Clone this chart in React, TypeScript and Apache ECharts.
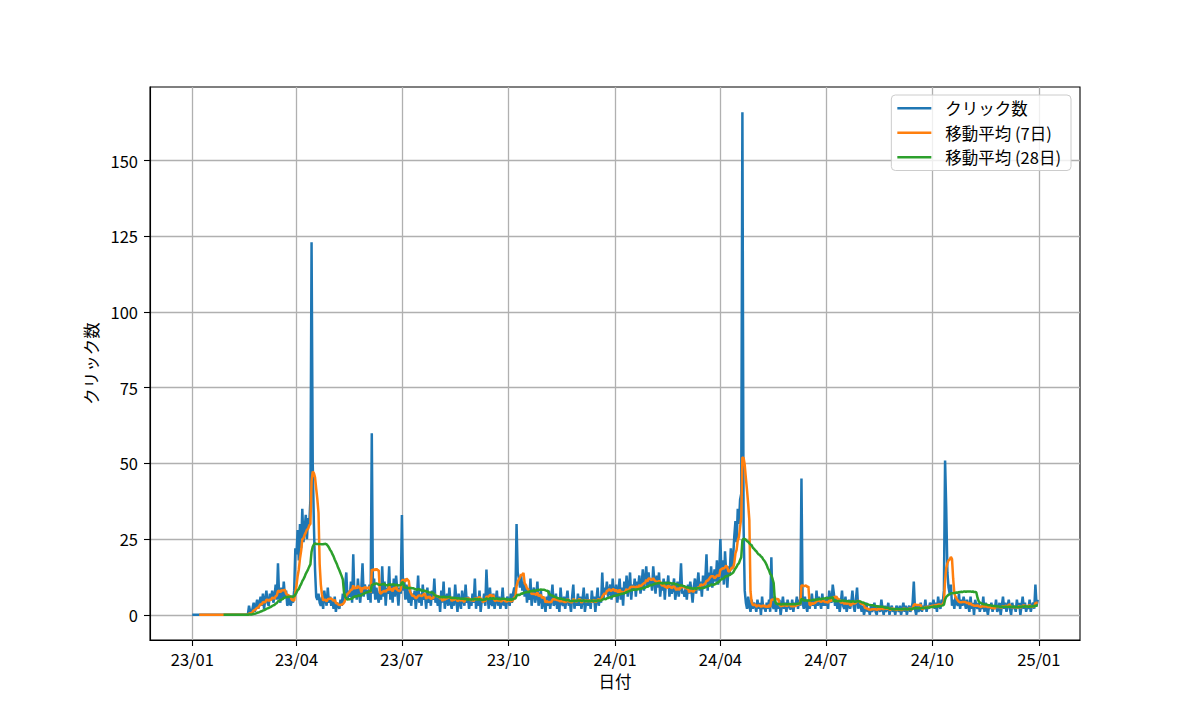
import React, { useEffect, useRef } from "react";
import * as echarts from "echarts";

// Daily click counts, one array per month (2023-01 .. 2024-12)
const jan23 = [0,0,0,0,0,0,0,0,0,0, 0,0,0,0,0,0,0,0,0,0, 0,0,0,0,0,0,0,0,0,0, 0];
const feb23 = [0,0,0,0,0,0,0,0,0,0, 0,0,0,0,0,0,0,0,3,1, 0,2,4,1,3,5,2,4];
const mar23 = [6,3,7,2,5,8,4,3,7,5, 8,4,6,10,5,17,6,4,9,5, 11,6,8,3,4,6,3,5,4,8, 22];
const apr23 = [20,28,18,30,22,35,24,28,33,25, 32,30,38,123,50,30,15,6,5,7, 4,3,6,2,8,5,3,9,4,6];
const may23 = [3,5,2,6,1,4,3,2,5,3, 7,4,10,14,5,8,6,11,4,20, 6,9,5,12,7,4,9,17,6,10, 8];
const jun23 = [8,5,10,4,60,7,12,5,9,6, 4,8,5,16,6,11,3,9,7,16, 5,10,4,12,6,13,8,3,9,7];
const jul23 = [33,8,12,5,10,6,4,9,3,7, 5,8,2,6,13,4,7,3,10,5, 6,2,9,4,7,3,8,5,12,4, 6];
const aug23 = [3,6,1,8,4,11,2,5,7,3, 9,4,2,6,3,10,5,1,7,4, 2,8,5,3,10,4,6,2,5,3, 7];
const sep23 = [4,12,2,6,3,8,1,5,4,7, 3,15,6,2,9,4,3,7,2,5, 8,3,6,2,4,9,3,5,2,6];
const oct23 = [5,3,7,4,7,9,6,30,14,12, 9,13,8,11,6,10,4,8,5,12, 3,7,9,4,6,11,3,5,8,2, 6];
const nov23 = [4,1,6,3,8,2,5,10,3,4, 7,2,5,1,9,4,3,6,2,5, 8,3,4,1,6,10,2,5,3,7];
const dec23 = [3,6,2,5,9,1,4,7,3,5, 2,8,4,6,1,5,9,3,6,4, 14,5,9,7,11,6,8,10,5,12, 7];
const jan24 = [6,10,4,8,12,5,9,3,11,7, 13,6,9,14,5,10,8,12,6,11, 9,13,7,10,15,8,12,16,9,14, 10];
const feb24 = [12,8,16,11,7,13,9,14,6,10, 8,12,5,11,9,13,6,10,7,9, 12,5,8,11,6,9,17,7,8];
const mar24 = [6,9,5,10,7,11,8,4,9,12, 7,10,14,8,11,6,13,9,12,20, 8,14,10,16,9,12,15,11,18,10, 14];
const apr24 = [25,12,18,10,21,14,9,16,13,22, 15,19,26,31,24,35,30,38,40,166, 30,8,4,2,6,3,1,5,2,4];
const may24 = [3,1,5,2,4,0,6,2,3,1, 4,2,5,1,19,3,2,6,1,4, 2,5,0,3,6,2,4,1,5,3, 2];
const jun24 = [2,5,1,4,3,6,2,5,3,45, 4,2,6,3,1,5,2,4,7,3, 5,2,8,3,6,4,2,7,3,5];
const jul24 = [3,6,2,8,5,4,10,7,3,6, 2,5,1,4,8,3,2,6,1,3, 5,2,4,8,3,1,5,9,2,4, 3];
const aug24 = [1,3,0,2,4,1,2,0,3,1, 2,4,1,0,3,2,1,5,2,0, 3,1,2,4,0,2,3,1,2,0, 3];
const sep24 = [2,1,3,0,2,4,1,3,0,2, 3,1,2,4,11,2,0,3,1,2, 4,1,3,2,5,1,3,2,4,3];
const oct24 = [3,5,2,4,1,6,3,2,5,4, 8,51,35,14,9,7,10,3,5,2, 6,4,3,7,2,5,3,6,4,2, 5];
const nov24 = [3,1,6,2,4,0,5,3,2,4, 1,3,2,6,1,4,2,0,3,2, 4,1,3,2,5,1,2,4,0,3];
const dec24 = [6,2,4,1,3,5,2,0,4,2, 3,1,5,2,4,0,3,6,2,4, 1,3,2,5,1,3,4,2,10,3, 5];

const months = [
  jan23, feb23, mar23, apr23, may23, jun23, jul23, aug23, sep23, oct23, nov23, dec23,
  jan24, feb24, mar24, apr24, may24, jun24, jul24, aug24, sep24, oct24, nov24, dec24,
];

// x tick positions (day index from 2023-01-01) and their labels
const tickDays = [0, 90, 181, 273, 365, 456, 547, 639, 731];
const tickLabels = ["23/01", "23/04", "23/07", "23/10", "24/01", "24/04", "24/07", "24/10", "25/01"];
const yTicks = [0, 25, 50, 75, 100, 125, 150];

const seriesNames = ["クリック数", "移動平均 (7日)", "移動平均 (28日)"];
const colors = ["#1f77b4", "#ff7f0e", "#2ca02c"];

const FONT = "'Noto Sans CJK JP', 'Noto Sans', sans-serif";

function rolling(values: number[], w: number): [number, number][] {
  const out: [number, number][] = [];
  let sum = 0;
  for (let i = 0; i < values.length; i++) {
    sum += values[i];
    if (i >= w) sum -= values[i - w];
    if (i >= w - 1) out.push([i, sum / w]);
  }
  return out;
}

export default function App() {
  const ref = useRef<HTMLDivElement>(null);
  useEffect(() => {
    if (!ref.current) return;
    const clicks: number[] = ([] as number[]).concat(...months);
    const n = clicks.length;
    const xPad = (n - 1) * 0.05;
    const yMax = Math.max(...clicks);
    const yPad = yMax * 0.05;
    const chart = echarts.init(ref.current, undefined, { renderer: "svg" });
    const labelFor = (v: number) => {
      const i = tickDays.indexOf(Math.round(v));
      return i >= 0 ? tickLabels[i] : "";
    };
    chart.setOption({
      animation: false,
      backgroundColor: "#ffffff",
      textStyle: { fontFamily: FONT },
      grid: {
        left: 150,
        right: 120,
        top: 87,
        bottom: 80,
        show: true,
        borderColor: "#000000",
        borderWidth: 1.1,
        backgroundColor: "transparent",
      },
      legend: {
        orient: "vertical",
        right: 129,
        top: 95,
        icon: "rect",
        itemWidth: 34,
        itemHeight: 2.5,
        itemGap: 8,
        padding: [5, 10, 5, 6],
        backgroundColor: "rgba(255,255,255,0.8)",
        borderColor: "#cccccc",
        borderWidth: 1,
        borderRadius: 4,
        data: seriesNames,
        textStyle: { fontSize: 16.5, color: "#000", fontFamily: FONT, padding: [0, 0, 0, 9] },
      },
      xAxis: {
        type: "value",
        min: -xPad,
        max: n - 1 + xPad,
        name: "日付",
        nameLocation: "middle",
        nameGap: 33,
        nameTextStyle: { fontSize: 16.5, color: "#000", fontFamily: FONT },
        axisLine: { show: true, onZero: false, lineStyle: { color: "#000", width: 1.1 } },
        axisTick: { show: true, length: 6, customValues: tickDays, lineStyle: { color: "#000", width: 1.1 } },
        axisLabel: {
          customValues: tickDays,
          formatter: labelFor,
          fontSize: 16.5,
          color: "#000",
          margin: 11,
          fontFamily: FONT,
        },
        splitLine: { show: true, lineStyle: { color: "#b0b0b0", width: 1.3 } },
      },
      yAxis: {
        type: "value",
        min: -yPad,
        max: yMax + yPad,
        name: "クリック数",
        nameLocation: "middle",
        nameGap: 49,
        nameRotate: 90,
        nameTextStyle: { fontSize: 16.5, color: "#000", fontFamily: FONT },
        axisLine: { show: true, onZero: false, lineStyle: { color: "#000", width: 1.1 } },
        axisTick: { show: true, length: 6, customValues: yTicks, lineStyle: { color: "#000", width: 1.1 } },
        axisLabel: { customValues: yTicks, fontSize: 16.5, color: "#000", margin: 12, fontFamily: FONT },
        splitLine: { show: true, lineStyle: { color: "#b0b0b0", width: 1.3 } },
      },
      series: [
        {
          name: seriesNames[0],
          type: "line",
          data: clicks.map((v, i) => [i, v]),
          symbol: "none",
          showSymbol: false,
          lineStyle: { width: 2.5, color: colors[0] },
          itemStyle: { color: colors[0] },
          z: 2,
        },
        {
          name: seriesNames[1],
          type: "line",
          data: rolling(clicks, 7),
          symbol: "none",
          showSymbol: false,
          lineStyle: { width: 2.5, color: colors[1] },
          itemStyle: { color: colors[1] },
          z: 3,
        },
        {
          name: seriesNames[2],
          type: "line",
          data: rolling(clicks, 28),
          symbol: "none",
          showSymbol: false,
          lineStyle: { width: 2.5, color: colors[2] },
          itemStyle: { color: colors[2] },
          z: 4,
        },
      ],
    });
    return () => chart.dispose();
  }, []);
  return (
    <div
      ref={ref}
      style={{ position: "absolute", left: 0, top: 0, width: 1200, height: 720, background: "#fff" }}
    />
  );
}
